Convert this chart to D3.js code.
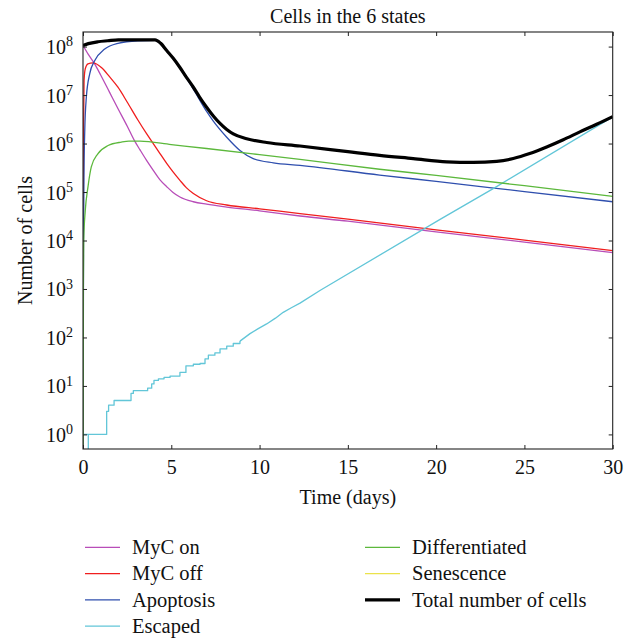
<!DOCTYPE html>
<html>
<head>
<meta charset="utf-8">
<script src="https://cdn.jsdelivr.net/npm/d3@7"></script>
<style>
  html, body { margin: 0; padding: 0; background: #fff; }
  svg { display: block; }
  text { font-family: "Liberation Serif", "DejaVu Serif", serif; fill: #111; }
</style>
</head>
<body>
<svg id="chart" width="635" height="638"></svg>
<script>
// ---------------- DATA ----------------
const title = "Cells in the 6 states";
const xLabel = "Time (days)";
const yLabel = "Number of cells";
const xTicks = [0, 5, 10, 15, 20, 25, 30];
const yTickExponents = [0, 1, 2, 3, 4, 5, 6, 7, 8];

const seriesNames = ["MyC on", "MyC off", "Apoptosis", "Escaped", "Differentiated", "Senescence", "Total number of cells"];

const mycOnT = [0, 0.3, 0.66, 1.0, 1.5, 2.0, 2.5, 2.93, 3.23, 3.6, 3.98, 4.35, 4.74, 5.1, 5.49, 6.25, 7.0, 8.14, 10, 12.29, 15, 20, 25, 30];
const mycOnV = [1.05e8, 6.9e7, 4.4e7, 2.6e7, 1.15e7, 5.1e6, 2.3e6, 1.12e6, 7.4e5, 4.5e5, 2.8e5, 1.8e5, 1.29e5, 9.8e4, 7.9e4, 6.3e4, 5.6e4, 4.9e4, 4.1e4, 3.2e4, 2.5e4, 1.5e4, 9.3e3, 5.6e3];

const mycOffT = [0, 0.02, 0.04, 0.06, 0.13, 0.28, 0.57, 1.04, 1.5, 1.98, 2.5, 3.1, 3.6, 3.98, 4.35, 4.74, 5.1, 5.49, 5.85, 6.25, 7.0, 8.14, 10, 12.29, 15, 20, 25, 30];
const mycOffV = [0.1, 1e5, 4e6, 2e7, 3.5e7, 4.4e7, 4.6e7, 3.7e7, 2.4e7, 1.45e7, 7.2e6, 3.1e6, 1.6e6, 1.0e6, 6.3e5, 3.9e5, 2.6e5, 1.74e5, 1.23e5, 9.3e4, 6.6e4, 5.4e4, 4.5e4, 3.6e4, 2.75e4, 1.66e4, 1.02e4, 6.2e3];

const apoptosisT = [0, 0.03, 0.06, 0.1, 0.19, 0.38, 0.66, 1.23, 1.98, 3.1, 4.08, 4.74, 5.49, 6.25, 7.0, 7.38, 8.14, 8.89, 9.64, 10.78, 12.29, 16.8, 20, 25, 30];
const apoptosisV = [0.1, 1e4, 3.2e5, 1.86e6, 9.1e6, 2.75e7, 5.1e7, 8.9e7, 1.17e8, 1.32e8, 1.35e8, 8.1e7, 3.6e7, 1.32e7, 4.6e6, 2.9e6, 1.35e6, 7.2e5, 4.9e5, 4.0e5, 3.55e5, 2.24e5, 1.66e5, 1.02e5, 6.3e4];

// Escaped: stochastic (stepped) early phase, then smooth growth
const escapedStepT = [0, 0.30, 0.30, 1.34, 1.45, 1.76, 2.72, 2.85, 3.66, 3.89, 4.02, 4.27, 4.59, 4.93, 5.49, 5.83, 6.25, 6.63, 6.91, 7.10, 7.47, 7.76, 8.14, 8.51, 8.89];
const escapedStepV = [1, 0.1, 1, 3, 4, 5, 7, 8, 9, 11, 13, 14, 15, 16, 19, 26, 28, 29, 36, 43, 48, 58, 66, 75, 84];
const escapedT = [8.89, 9.46, 9.9, 10.4, 10.9, 11.34, 11.8, 12.29, 13.42, 20.2, 23.33, 30];
const escapedV = [84, 120, 150, 190, 250, 330, 410, 510, 930, 2.7e4, 1.23e5, 3.55e6];

const differentiatedT = [0, 0.02, 0.04, 0.13, 0.28, 0.47, 0.85, 1.42, 2.17, 2.6, 3.23, 5, 7, 10, 12.29, 16.8, 20, 25, 30];
const differentiatedV = [0.1, 1e3, 1e4, 4.2e4, 1.26e5, 3.3e5, 6.2e5, 9.1e5, 1.07e6, 1.12e6, 1.12e6, 9.5e5, 7.9e5, 5.9e5, 4.7e5, 2.95e5, 2.2e5, 1.35e5, 8.1e4];

const senescenceT = [];
const senescenceV = [];

const totalT = [0, 0.3, 0.85, 1.4, 2.0, 3.0, 4.08, 4.4, 4.74, 5.1, 5.49, 5.85, 6.25, 6.6, 7.0, 7.38, 7.76, 8.14, 8.51, 9.27, 10.4, 12.29, 15, 16.8, 18.7, 20.6, 22.1, 23.43, 24.37, 25.3, 26.26, 27.2, 28.14, 29.09, 30];
const totalV = [1.05e8, 1.15e8, 1.26e8, 1.32e8, 1.38e8, 1.38e8, 1.38e8, 1.17e8, 8.3e7, 5.8e7, 3.7e7, 2.35e7, 1.45e7, 9.1e6, 5.6e6, 3.7e6, 2.6e6, 1.95e6, 1.58e6, 1.26e6, 1.05e6, 8.9e5, 6.8e5, 5.7e5, 4.9e5, 4.2e5, 4.1e5, 4.3e5, 4.9e5, 6.2e5, 8.5e5, 1.2e6, 1.74e6, 2.5e6, 3.6e6];

// ---------------- STYLE ----------------
const colors = {
  "MyC on": "#b84db8",
  "MyC off": "#f01e1e",
  "Apoptosis": "#2f4fae",
  "Escaped": "#62c6d8",
  "Differentiated": "#5cb83c",
  "Senescence": "#ebe24a",
  "Total number of cells": "#000000"
};

const svg = d3.select("#chart");
const L = 83, T = 32, R = 612.7, B = 449;
const x = d3.scaleLinear().domain([0, 30]).range([L, R]);
const y = d3.scaleLog().domain([0.5, 2e8]).range([B, T]);

const zip = (ts, vs) => ts.map((t, i) => ({t, v: vs[i]}));

svg.append("defs").append("clipPath").attr("id", "clip")
  .append("rect").attr("x", L).attr("y", T).attr("width", R - L).attr("height", B - T);

const plot = svg.append("g").attr("clip-path", "url(#clip)");
const line = d3.line().x(d => x(d.t)).y(d => y(d.v)).curve(d3.curveMonotoneX);
const straight = d3.line().x(d => x(d.t)).y(d => y(d.v));
const stepLine = d3.line().x(d => x(d.t)).y(d => y(d.v)).curve(d3.curveStepAfter);

function draw(data, name, gen, w) {
  if (!data.length) return;
  plot.append("path").datum(data)
    .attr("fill", "none").attr("stroke", colors[name])
    .attr("stroke-width", w).attr("stroke-linejoin", "round")
    .attr("d", gen);
}
draw(zip(mycOnT, mycOnV), "MyC on", line, 1.3);
draw(zip(mycOffT, mycOffV), "MyC off", line, 1.3);
draw(zip(apoptosisT, apoptosisV), "Apoptosis", line, 1.3);
draw(zip(escapedStepT, escapedStepV), "Escaped", stepLine, 1.3);
draw(zip(escapedT, escapedV), "Escaped", straight, 1.3);
draw(zip(differentiatedT, differentiatedV), "Differentiated", line, 1.3);
draw(zip(senescenceT, senescenceV), "Senescence", line, 1.3);
draw(zip(totalT, totalV), "Total number of cells", line, 3.2);

// ---------------- AXES ----------------
const axisColor = "#222";
const gb = svg.append("g").attr("transform", `translate(0,${B})`)
  .call(d3.axisBottom(x).tickValues(xTicks).tickSizeInner(-4).tickSizeOuter(0).tickPadding(11).tickFormat(d3.format("d")));
const gt = svg.append("g").attr("transform", `translate(0,${T})`)
  .call(d3.axisTop(x).tickValues(xTicks).tickSizeInner(-4).tickSizeOuter(0).tickFormat(""));
const yVals = yTickExponents.map(e => Math.pow(10, e));
const gl = svg.append("g").attr("transform", `translate(${L},0)`)
  .call(d3.axisLeft(y).tickValues(yVals).tickSizeInner(-4).tickSizeOuter(0).tickPadding(19).tickFormat(""));
const gr = svg.append("g").attr("transform", `translate(${R},0)`)
  .call(d3.axisRight(y).tickValues(yVals).tickSizeInner(-4).tickSizeOuter(0).tickFormat(""));

[gb, gt, gl, gr].forEach(g => {
  g.selectAll(".domain").remove();
  g.selectAll(".tick line").attr("stroke", axisColor).attr("stroke-width", 1);
});
gb.selectAll(".tick text").attr("font-size", 20).attr("font-family", "Liberation Serif").attr("fill", "#111");

gl.selectAll(".tick").each(function(d) {
  const g = d3.select(this);
  g.select("text").remove();
  const t = g.append("text").attr("x", -10).attr("dy", "0.35em")
    .attr("text-anchor", "end").attr("font-size", 20);
  t.append("tspan").text("10");
  t.append("tspan").attr("font-size", 14).attr("dy", "-0.55em").text(String(Math.round(Math.log10(d))));
});

svg.append("rect").attr("x", L).attr("y", T).attr("width", R - L).attr("height", B - T)
  .attr("fill", "none").attr("stroke", axisColor).attr("stroke-width", 1.1);

// ---------------- LABELS ----------------
svg.append("text").attr("x", (L + R) / 2).attr("y", 23).attr("text-anchor", "middle")
  .attr("font-size", 20).text(title);
svg.append("text").attr("x", (L + R) / 2).attr("y", 504).attr("text-anchor", "middle")
  .attr("font-size", 20).text(xLabel);
svg.append("text").attr("transform", `translate(32,${(T + B) / 2}) rotate(-90)`)
  .attr("text-anchor", "middle").attr("font-size", 20).text(yLabel);

// ---------------- LEGEND ----------------
const legendCols = [
  {x: 85, items: seriesNames.slice(0, 4)},
  {x: 365, items: seriesNames.slice(4)}
];
const legendY0 = 547.3, legendDY = 26.3;
legendCols.forEach(col => {
  col.items.forEach((name, i) => {
    const yy = legendY0 + i * legendDY;
    svg.append("line").attr("x1", col.x).attr("x2", col.x + 35).attr("y1", yy).attr("y2", yy)
      .attr("stroke", colors[name]).attr("stroke-width", name === "Total number of cells" ? 3.2 : 1.3);
    svg.append("text").attr("x", col.x + 47).attr("y", yy).attr("dy", "0.33em")
      .attr("font-size", 20.5).text(name);
  });
});
</script>
</body>
</html>
